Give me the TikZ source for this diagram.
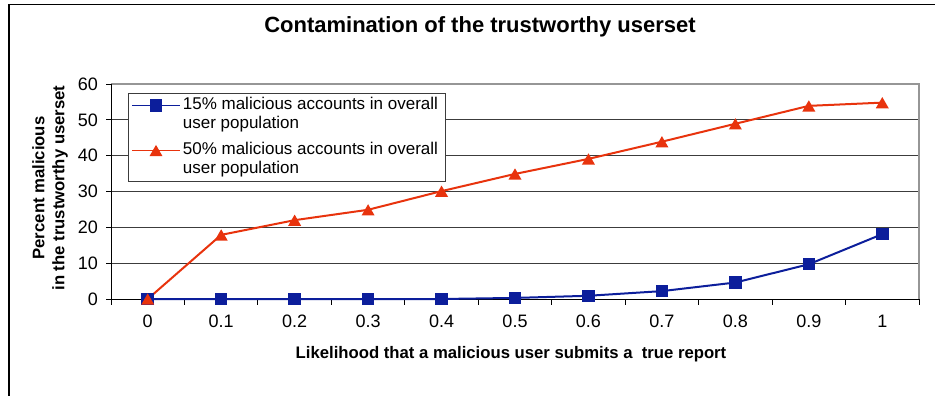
\documentclass[tikz,border=0pt]{standalone}
\usepackage{fontspec}
\setmainfont{Liberation Sans}
\usetikzlibrary{shapes.geometric}
\definecolor{serblue}{RGB}{12,30,155}
\definecolor{serred}{RGB}{232,51,13}
\definecolor{gridline}{RGB}{60,60,60}
\definecolor{plotframe}{RGB}{150,150,150}

\begin{document}
\begin{tikzpicture}[x=1pt,y=-1pt,
  ticklabel/.style={font=\fontsize{18}{20}\selectfont,inner sep=0pt},
  axistitle/.style={font=\bfseries\fontsize{16.7}{20}\selectfont,inner sep=0pt},
  legendtext/.style={font=\fontsize{17}{19}\selectfont,inner sep=0pt,anchor=north west,align=left},
  bluemark/.style={rectangle,fill=serblue,minimum size=12.5pt,inner sep=0pt},
  redmark/.style={regular polygon,regular polygon sides=3,fill=serred,minimum size=15pt,inner sep=0pt,yshift=-1.9pt},
  blueline/.style={serblue,line width=2pt},
  redline/.style={serred,line width=2pt}]
\useasboundingbox (0,0) rectangle (935,396);

% outer chart frame (left and top edges)
\draw[line width=1.3pt] (9,396) -- (9,4.7) -- (935,4.7);

% title
\node[font=\bfseries\fontsize{22}{24}\selectfont,inner sep=0pt] (title) at (480,27) {Contamination of the trustworthy userset};

% plot area: x from 111 to 919, y value 0 at 299, 60 at 84
\def\xl{111}\def\xr{919}\def\yb{299}\def\yt{84}
\pgfmathsetmacro{\cw}{(919-111)/11}
\pgfmathsetmacro{\vs}{(299-84)/60}

% horizontal gridlines
\foreach \v in {10,20,...,50}
  \draw[gridline,line width=0.9pt] (\xl,{\yb-\v*\vs}) -- (\xr,{\yb-\v*\vs});
% plot area border (top and right)
\draw[plotframe,line width=1.6pt] (\xl,\yt) -- (\xr,\yt) -- (\xr,\yb);

% y axis with ticks and labels
\draw[line width=1pt] (\xl,\yt) -- (\xl,\yb);
\foreach \v in {0,10,...,60} {
  \draw[line width=1pt] (106,{\yb-\v*\vs}) -- (\xl,{\yb-\v*\vs});
  \node[ticklabel,anchor=east] (yl\v) at (98,{\yb-\v*\vs}) {\v};
}

% x axis with ticks and category labels
\draw[line width=1pt] (\xl,\yb) -- (\xr,\yb);
\foreach \k in {0,...,11}
  \draw[line width=1pt] ({\xl+\k*\cw},\yb) -- ({\xl+\k*\cw},304.5);
\foreach \lab [count=\i from 0] in {0,0.1,0.2,0.3,0.4,0.5,0.6,0.7,0.8,0.9,1}
  \node[ticklabel] (xl\i) at ({\xl+(\i+0.5)*\cw},321.5) {\lab};

% axis titles
\node[axistitle] (xtitle) at (511,354) {Likelihood that a malicious user submits a\ \ true report};
\node[axistitle,rotate=90,align=center,font=\bfseries\fontsize{16.7}{20}\selectfont] (ytitle) at (50,188) {Percent malicious\\in the trustworthy userset};

% data series
\foreach \v [count=\i from 0] in {0,0,0,0,0,0.3,0.9,2.2,4.6,9.7,18.1}
  \coordinate (b\i) at ({\xl+(\i+0.5)*\cw},{\yb-\v*\vs});
\foreach \v [count=\i from 0] in {0,17.9,22,24.9,30.1,34.9,39.1,43.9,48.9,53.9,54.8}
  \coordinate (r\i) at ({\xl+(\i+0.5)*\cw},{\yb-\v*\vs});

\draw[blueline] (b0) -- (b1) -- (b2) -- (b3) -- (b4) -- (b5) -- (b6) -- (b7) -- (b8) -- (b9) -- (b10);
\draw[redline] (r0) -- (r1) -- (r2) -- (r3) -- (r4) -- (r5) -- (r6) -- (r7) -- (r8) -- (r9) -- (r10);
\foreach \i in {0,...,10}
  \node[bluemark] (bm\i) at (b\i) {};
\foreach \i in {0,...,10}
  \node[redmark] (rm\i) at (r\i) {};

% legend
\draw[gridline,line width=1pt,fill=white] (128.3,93.3) rectangle (445,181.7);
\coordinate (lb0) at (132,105.5);
\coordinate (lb1) at (180,105.5);
\coordinate (lr0) at (132,150.5);
\coordinate (lr1) at (180,150.5);
\draw[blueline,line width=1.5pt] (lb0) -- (lb1);
\node[bluemark] (lbm) at (156,105.5) {};
\draw[redline,line width=1.5pt] (lr0) -- (lr1);
\node[redmark] (lrm) at (156,150.5) {};
\node[legendtext] (leg1) at (182.7,96.5) {15\% malicious accounts in overall\\user population};
\node[legendtext] (leg2) at (182.7,141.5) {50\% malicious accounts in overall\\user population};
\end{tikzpicture}
\end{document}
